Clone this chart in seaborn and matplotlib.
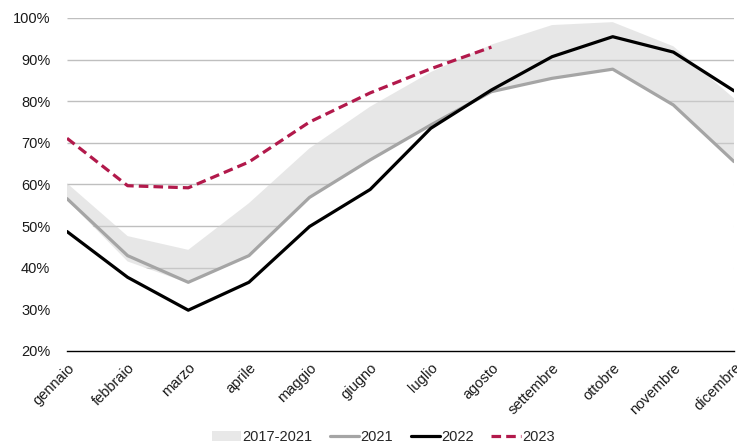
import numpy as np
import pandas as pd
import seaborn as sns
import matplotlib.pyplot as plt
from matplotlib.patches import Patch
from matplotlib.lines import Line2D

# Data (percent)
mesi = ['gennaio', 'febbraio', 'marzo', 'aprile', 'maggio', 'giugno',
        'luglio', 'agosto', 'settembre', 'ottobre', 'novembre', 'dicembre']
range_min = [56.3, 41.5, 36.3, 42.8, 56.8, 65.8, 74.2, 82.2, 85.4, 87.6, 79.0, 65.4]
range_max = [60.3, 47.6, 44.3, 55.5, 68.7, 78.7, 87.0, 93.6, 98.3, 99.0, 93.2, 80.7]
y2021 = [56.6, 42.9, 36.5, 42.9, 56.9, 65.9, 74.3, 82.3, 85.5, 87.7, 79.1, 65.5]
y2022 = [48.7, 37.7, 29.8, 36.5, 49.9, 58.8, 73.5, 82.7, 90.7, 95.5, 91.8, 82.5]
y2023 = [71.1, 59.7, 59.2, 65.4, 75.0, 82.0, 87.8, 93.0]

pos = np.arange(len(mesi))
df = pd.DataFrame({'pos': pos, 'min': range_min, 'max': range_max,
                   '2021': y2021, '2022': y2022})
df23 = pd.DataFrame({'pos': pos[:len(y2023)], '2023': y2023})

sns.set_style('white')
plt.rcParams['font.family'] = ['Liberation Sans', 'DejaVu Sans']

fig = plt.figure(figsize=(7.37, 4.47), dpi=100)
ax = fig.add_axes([0.0909, 0.2148, 0.905, 0.745])
ax.grid(False)

sns.lineplot(data=df, x='pos', y='2021', ax=ax, color='#a5a5a5', lw=2.3,
             errorbar=None, zorder=3)
sns.lineplot(data=df, x='pos', y='2022', ax=ax, color='black', lw=2.3,
             errorbar=None, zorder=4)
sns.lineplot(data=df23, x='pos', y='2023', ax=ax, color='#b2194b', lw=2.3,
             dashes=(3, 1.6), errorbar=None, zorder=5)

# gridlines, then an opaque white area under the band that hides them
ax.hlines(list(range(30, 101, 10)), 0, len(mesi) - 1, colors='#bfbfbf',
          lw=1.0, zorder=0.5)
ax.fill_between(pos, 20, range_min, facecolor='white', edgecolor='none', zorder=2)
ax.fill_between(pos, range_min, range_max, facecolor='#d0d0d0', alpha=0.5,
                edgecolor='none', zorder=2.5)

ax.set_xlim(0, len(mesi) - 1)
ax.set_ylim(20, 100)
ax.set_yticks(range(20, 101, 10))
ax.set_yticklabels([f'{v}%' for v in range(20, 101, 10)], fontsize=10.5, color='#1a1a1a')
ax.set_xticks(pos)
ax.set_xticklabels(mesi, rotation=45, ha='right', rotation_mode='anchor',
                   fontsize=10.5, color='#1a1a1a')
ax.set_xlabel('')
ax.set_ylabel('')

for s in ['top', 'right', 'left']:
    ax.spines[s].set_visible(False)
ax.spines['bottom'].set_color('black')
ax.spines['bottom'].set_linewidth(1.0)
ax.spines['bottom'].set_zorder(6)
ax.tick_params(axis='x', direction='out', length=4, width=1, color='#333333', pad=3)
ax.tick_params(axis='y', length=0, pad=12)

handles = [Patch(facecolor='#e8e8e8', edgecolor='none'),
           Line2D([], [], color='#a5a5a5', lw=2.3),
           Line2D([], [], color='black', lw=2.3),
           Line2D([], [], color='#b2194b', lw=2.3, dashes=(3, 1.6))]
fig.legend(handles, ['2017-2021', '2021', '2022', '2023'], loc='center',
           bbox_to_anchor=(0.52, 0.022), ncol=4, frameon=False, fontsize=10.5,
           handlelength=2.0, handletextpad=0.1, columnspacing=1.2)

fig.savefig('out.png', dpi=100)
